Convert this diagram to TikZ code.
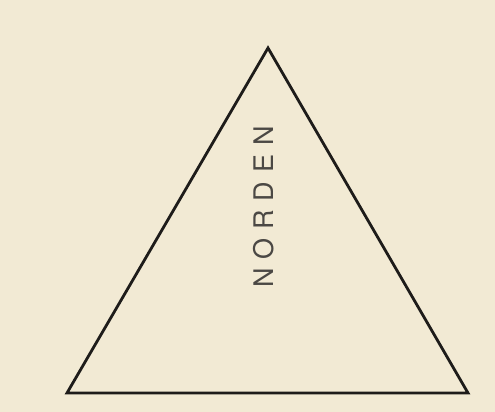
\documentclass[tikz,border=0pt]{standalone}
\usepackage{fontspec}
\setmainfont{TeX Gyre Heros}
\definecolor{paper}{RGB}{242,234,212}
\definecolor{ink}{RGB}{30,28,26}
\definecolor{txt}{RGB}{75,72,68}
\begin{document}
\begin{tikzpicture}[x=1pt,y=1pt,
  edge/.style={draw=ink,line width=2.8pt,line join=miter},
  label/.style={text=txt,font=\fontsize{27}{27}\selectfont\addfontfeature{LetterSpace=33},rotate=90,inner sep=0pt}]
\fill[paper] (0,0) rectangle (495,412);
\useasboundingbox (0,0) rectangle (495,412);
\coordinate (top) at (268,364);
\coordinate (bl) at (67,19);
\coordinate (br) at (468,19);
\draw[edge] (top) -- (bl) -- (br) -- cycle;
\node[label] (name) at (264,205) {NORDEN};
\end{tikzpicture}
\end{document}
